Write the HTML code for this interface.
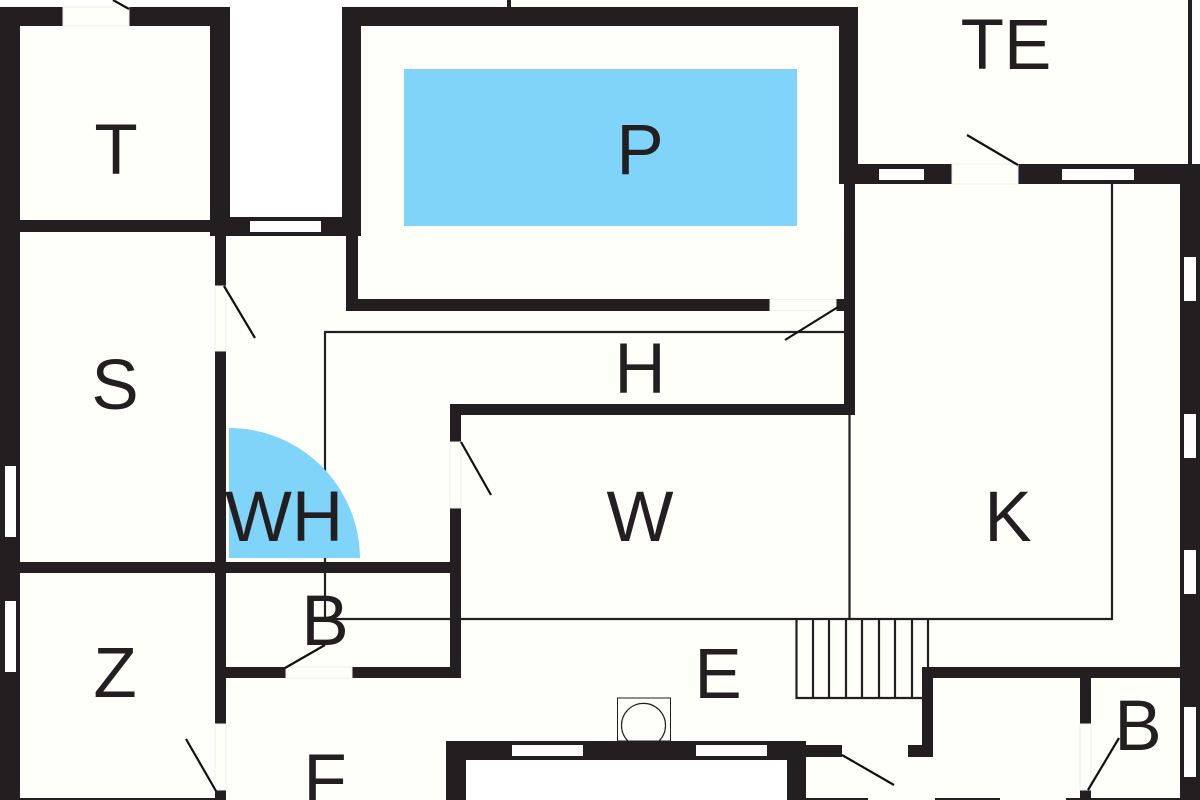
<!DOCTYPE html>
<html>
<head>
<meta charset="utf-8">
<style>
html,body{margin:0;padding:0;background:#fff}
svg{display:block}
text{font-family:"Liberation Sans",sans-serif;font-size:71px;fill:#231f20;text-anchor:middle}
.w{fill:#231f20}
.g{fill:#fff}
.l{stroke:#231f20;stroke-width:2.2;fill:none}
.d{stroke:#111;stroke-width:2.2;fill:none}
.o{fill:#fffffa;stroke:#eeeee9;stroke-width:1}
</style>
</head>
<body>
<svg width="1200" height="800" viewBox="0 0 1200 800" xmlns="http://www.w3.org/2000/svg">
<rect width="1200" height="800" fill="#fff"/>
<!-- interior floor -->
<rect x="20" y="26" width="190" height="774" fill="#fffffa"/>
<rect x="215" y="232" width="965" height="568" fill="#fffffa"/>
<rect x="855" y="184" width="325" height="60" fill="#fffffa"/>
<rect x="361" y="26" width="478" height="280" fill="#fffffa"/>
<rect x="511" y="0" width="681" height="184" fill="#fffffa"/>
<rect x="466" y="760" width="321" height="40" fill="#fff"/>
<!-- blue -->
<rect x="404" y="69" width="393" height="157" fill="#80d4f9"/>
<!-- thin lines -->
<path class="l" d="M325 619V332H845"/>
<path class="l" d="M325 619H1112V184"/>
<path class="l" d="M849.5 415V619"/>
<path class="l" d="M796.5 619V698H922M813 619V698M829 619V698M846 619V698M862 619V698M879 619V698M895 619V698M912 619V698M928 619V668"/>
<rect x="617.5" y="698" width="53" height="43" fill="none" stroke="#231f20" stroke-width="1"/>
<path d="M628 741A22 22 0 1 1 659 741" fill="none" stroke="#231f20" stroke-width="1.2"/>
<path d="M229 558V428A131 131 0 0 1 360 558Z" fill="#80d4f9"/>
<!-- walls -->
<g class="w">
<rect x="0" y="7" width="20" height="793"/>
<rect x="0" y="7" width="63" height="19"/>
<rect x="129" y="7" width="101" height="19"/>
<rect x="210" y="7" width="20" height="229"/>
<rect x="20" y="220" width="190" height="12"/>
<rect x="210" y="217" width="151" height="19"/>
<rect x="342" y="7" width="19" height="229"/>
<rect x="342" y="7" width="516" height="19"/>
<rect x="839" y="7" width="19" height="177"/>
<rect x="507" y="0" width="4" height="8"/>
<rect x="346" y="236" width="12" height="75"/>
<rect x="346" y="299" width="424" height="12"/>
<rect x="836" y="299" width="12" height="12"/>
<rect x="844" y="184" width="11" height="231"/>
<rect x="450" y="404" width="405" height="11"/>
<rect x="450" y="404" width="11" height="38"/>
<rect x="450" y="508" width="11" height="170"/>
<rect x="20" y="562" width="441" height="11"/>
<rect x="215" y="236" width="11" height="50"/>
<rect x="215" y="351" width="11" height="373"/>
<rect x="215" y="790" width="11" height="10"/>
<rect x="226" y="667" width="60" height="11"/>
<rect x="352" y="667" width="109" height="11"/>
<rect x="839" y="164" width="113" height="20"/>
<rect x="1018" y="164" width="182" height="20"/>
<rect x="1180" y="164" width="20" height="636"/>
<rect x="1188" y="0" width="4" height="164"/>
<rect x="446" y="741" width="360" height="19"/>
<rect x="446" y="741" width="20" height="59"/>
<rect x="787" y="741" width="19" height="59"/>
<rect x="806" y="745" width="36" height="12"/>
<rect x="908" y="745" width="25" height="12"/>
<rect x="922" y="667" width="11" height="90"/>
<rect x="922" y="667" width="258" height="11"/>
<rect x="1080" y="678" width="11" height="46"/>
<rect x="1080" y="790" width="11" height="10"/>
<rect x="20" y="798" width="195" height="2"/>
<rect x="806" y="798" width="62" height="2"/>
<rect x="935" y="798" width="65" height="2"/>
<rect x="1066" y="798" width="25" height="2"/>
<rect x="1091" y="798" width="89" height="2"/>
</g>
<!-- windows -->
<g class="g">
<rect x="250" y="221" width="71" height="11"/>
<rect x="879" y="169" width="45" height="11"/>
<rect x="1062" y="169" width="72" height="11"/>
<rect x="1184" y="257" width="12" height="44"/>
<rect x="1184" y="414" width="12" height="44"/>
<rect x="1184" y="550" width="12" height="44"/>
<rect x="1184" y="707" width="12" height="70"/>
<rect x="5" y="466" width="11" height="71"/>
<rect x="5" y="601" width="11" height="71"/>
<rect x="512" y="745" width="71" height="11"/>
<rect x="696" y="745" width="71" height="11"/>
</g>
<!-- door openings -->
<rect x="770" y="299.5" width="66" height="11" class="o"/>
<rect x="952" y="164" width="66" height="20" class="o"/>
<rect x="63" y="7" width="66" height="19" class="o"/>
<rect x="286" y="667" width="66" height="11" class="o"/>
<rect x="215" y="286" width="11" height="65" class="o"/>
<rect x="450" y="442" width="11" height="66" class="o"/>
<rect x="215" y="724" width="11" height="66" class="o"/>
<rect x="1080" y="724" width="11" height="66" class="o"/>
<!-- door swings -->
<path class="d" d="M113 0L129 9"/>
<path class="d" d="M224 286L255 338"/>
<path class="d" d="M461 442L491 495"/>
<path class="d" d="M186 739L216 791"/>
<path class="d" d="M285 668L325 645"/>
<path class="d" d="M967 135L1018 165"/>
<path class="d" d="M785 340L838 307"/>
<path class="d" d="M842 755L894 785"/>
<path class="d" d="M1088 790L1119 738"/>
<!-- labels -->
<text x="116" y="174">T</text>
<text x="115" y="409">S</text>
<text x="1006" y="69">TE</text>
<text x="640" y="174">P</text>
<text x="640" y="393">H</text>
<text x="640" y="541">W</text>
<text x="1008" y="541">K</text>
<text x="284" y="541">WH</text>
<text x="325" y="645">B</text>
<text x="115" y="697">Z</text>
<text x="718" y="698">E</text>
<text x="325" y="804">F</text>
<text x="1138" y="750">B</text>
</svg>
</body>
</html>
